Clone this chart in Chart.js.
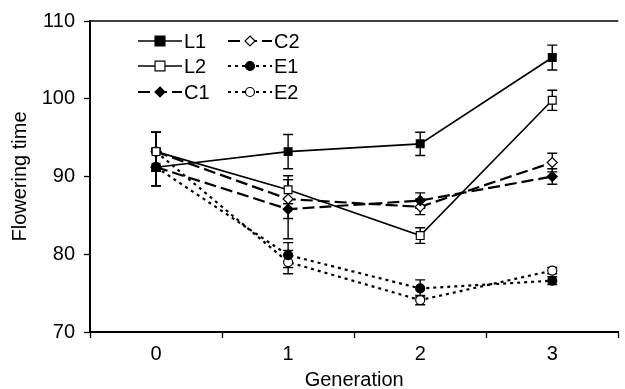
<!DOCTYPE html>
<html>
<head>
<meta charset="utf-8">
<script src="https://cdn.jsdelivr.net/npm/chart.js@4/dist/chart.umd.min.js"></script>
<style>
  html, body { margin: 0; padding: 0; background: #fff; }
</style>
</head>
<body>
<canvas id="chart1" width="625" height="389"></canvas>
<script>
const generations = ["0", "1", "2", "3"];

const L1 = [91.2, 93.2, 94.2, 105.3];
const L2 = [93.2, 88.3, 82.4, 99.8];
const C1 = [91.2, 85.8, 86.9, 90.0];
const C2 = [93.2, 87.1, 86.1, 91.8];
const E1 = [91.2, 79.9, 75.6, 76.6];
const E2 = [93.2, 79.0, 74.1, 77.9];

const L1_err = [2.4, 2.2, 1.5, 1.6];
const L2_err = [2.5, 1.8, 1.0, 1.3];
const C1_err = [2.4, 3.8, 1.0, 1.0];
const C2_err = [2.5, 2.5, 1.0, 1.2];
const E1_err = [2.4, 1.6, 1.1, 0.5];
const E2_err = [2.5, 1.5, 0.6, 0.4];

const yTicks = [70, 80, 90, 100, 110];

const font = "'Liberation Sans', Arial, sans-serif";
const solid = [];
const longDash = [12, 5];
const dotted = [3, 4];

const makeSeries = (label, data, err, dash, pointStyle, filled, radius) => ({
    label,
    data,
    err,
    borderColor: "#000",
    borderWidth: dash.length ? 2.2 : 1.6,
    borderDash: dash,
    pointStyle,
    pointRadius: radius,
    pointBackgroundColor: filled ? "#000" : "#fff",
    pointBorderColor: "#000",
    pointBorderWidth: 1.2,
    tension: 0,
    fill: false,
});

const datasets = [
    makeSeries("L1", L1, L1_err, solid, "rect", true, 5.5),
    makeSeries("L2", L2, L2_err, solid, "rect", false, 5.5),
    makeSeries("C1", C1, C1_err, longDash, "rectRot", true, 5),
    makeSeries("C2", C2, C2_err, longDash, "rectRot", false, 5),
    makeSeries("E1", E1, E1_err, dotted, "circle", true, 4.5),
    makeSeries("E2", E2, E2_err, dotted, "circle", false, 4.5),
];

// error bars, drawn under the markers
const errorBars = {
    id: "errorBars",
    beforeDatasetsDraw(chart) {
        const { ctx, scales } = chart;
        ctx.save();
        ctx.strokeStyle = "#000";
        ctx.lineWidth = 1.4;
        ctx.setLineDash([]);
        chart.data.datasets.forEach((ds) => {
            ds.data.forEach((v, i) => {
                const x = scales.x.getPixelForValue(i);
                const yTop = scales.y.getPixelForValue(v + ds.err[i]);
                const yBot = scales.y.getPixelForValue(v - ds.err[i]);
                ctx.beginPath();
                ctx.moveTo(x, yTop);
                ctx.lineTo(x, yBot);
                ctx.moveTo(x - 5, yTop);
                ctx.lineTo(x + 5, yTop);
                ctx.moveTo(x - 5, yBot);
                ctx.lineTo(x + 5, yBot);
                ctx.stroke();
            });
        });
        ctx.restore();
    },
};

const drawMarker = (ctx, ds, x, y) => {
    const r = ds.pointRadius;
    ctx.beginPath();
    if (ds.pointStyle === "rect") {
        const s = r * 0.9;
        ctx.rect(x - s, y - s, 2 * s, 2 * s);
    } else if (ds.pointStyle === "rectRot") {
        ctx.moveTo(x, y - r);
        ctx.lineTo(x + r, y);
        ctx.lineTo(x, y + r);
        ctx.lineTo(x - r, y);
        ctx.closePath();
    } else {
        ctx.arc(x, y, r, 0, Math.PI * 2);
    }
    ctx.fillStyle = ds.pointBackgroundColor;
    ctx.fill();
    ctx.lineWidth = ds.pointBorderWidth;
    ctx.setLineDash([]);
    ctx.stroke();
};

// legend in two columns inside the plot, plus the top frame line
const frameAndLegend = {
    id: "frameAndLegend",
    afterDraw(chart) {
        const { ctx, chartArea } = chart;
        ctx.save();
        ctx.strokeStyle = "#000";
        ctx.lineWidth = 1.5;
        ctx.beginPath();
        ctx.moveTo(chartArea.left, chartArea.top);
        ctx.lineTo(chartArea.right, chartArea.top);
        ctx.stroke();

        const cols = [chartArea.left + 48, chartArea.left + 138];
        const rows = [chartArea.top + 20, chartArea.top + 45, chartArea.top + 71];
        ctx.font = "20px " + font;
        ctx.textBaseline = "middle";
        chart.data.datasets.forEach((ds, i) => {
            const x0 = cols[Math.floor(i / 3)];
            const y = rows[i % 3];
            const len = 44;
            ctx.strokeStyle = "#000";
            ctx.lineWidth = ds.borderWidth;
            ctx.setLineDash(ds.borderDash);
            ctx.beginPath();
            ctx.moveTo(x0, y);
            ctx.lineTo(x0 + len, y);
            ctx.stroke();
            drawMarker(ctx, ds, x0 + len / 2, y);
            ctx.fillStyle = "#000";
            ctx.fillText(ds.label, x0 + len + 2, y + 1);
        });
        ctx.restore();
    },
};

new Chart(document.getElementById("chart1"), {
    type: "line",
    data: { labels: generations, datasets },
    plugins: [errorBars, frameAndLegend],
    options: {
        responsive: false,
        animation: false,
        layout: { padding: { top: 21, right: 0, left: 0, bottom: 0 } },
        plugins: {
            legend: { display: false },
            tooltip: { enabled: false },
        },
        scales: {
            x: {
                type: "category",
                offset: true,
                afterFit: (scale) => { scale.height = 57; },
                grid: {
                    offset: true,
                    drawOnChartArea: false,
                    drawTicks: true,
                    tickLength: 6,
                    tickWidth: 1.3,
                    tickColor: "#000",
                },
                border: { display: true, color: "#000", width: 2 },
                ticks: {
                    color: "#000",
                    padding: 4,
                    font: { family: font, size: 20 },
                },
                title: {
                    display: true,
                    text: "Generation",
                    color: "#000",
                    font: { family: font, size: 20, lineHeight: 0.85 },
                    padding: { top: 0, bottom: 0 },
                },
            },
            y: {
                min: 70,
                max: 110,
                afterFit: (scale) => { scale.width = 90; },
                afterBuildTicks: (scale) => { scale.ticks = yTicks.map((value) => ({ value })); },
                grid: {
                    drawOnChartArea: false,
                    drawTicks: true,
                    tickLength: 6,
                    tickWidth: 1.3,
                    tickColor: "#000",
                },
                border: { display: true, color: "#000", width: 2 },
                ticks: {
                    color: "#000",
                    padding: 9,
                    font: { family: font, size: 20 },
                },
                title: {
                    display: true,
                    text: "Flowering time",
                    color: "#000",
                    font: { family: font, size: 20, lineHeight: 1.2 },
                    padding: { top: 8, bottom: 0 },
                },
            },
        },
    },
});
</script>
</body>
</html>
